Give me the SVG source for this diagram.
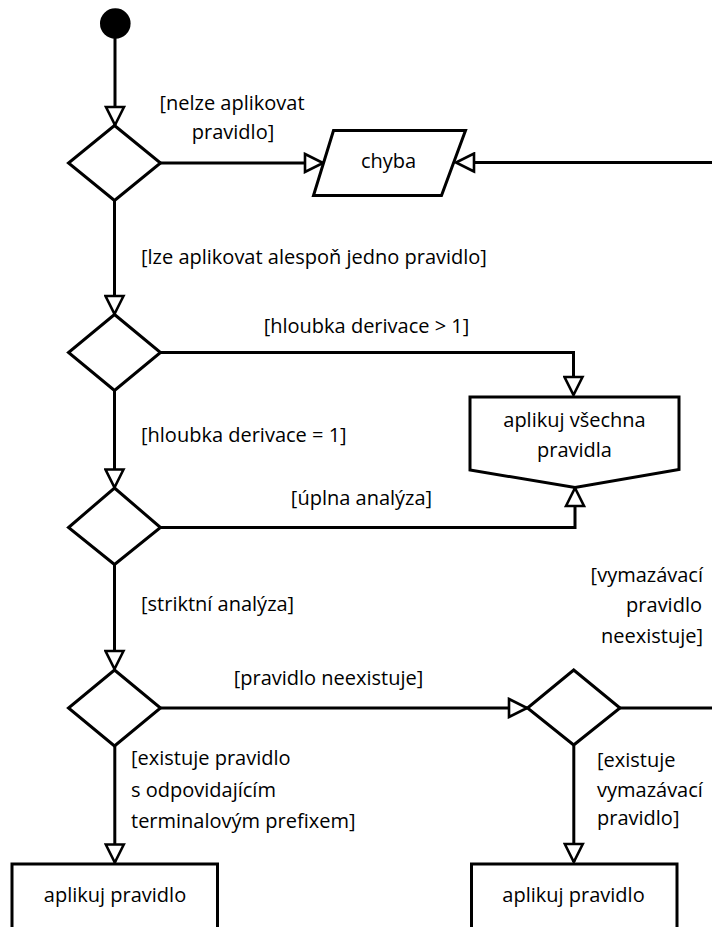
<svg xmlns="http://www.w3.org/2000/svg" width="712" height="927" viewBox="0 0 712 927">
  <style>
    .shape { fill: #fff; stroke: #000; stroke-width: 3; stroke-linejoin: miter; }
    .edge { fill: none; stroke: #000; stroke-width: 3; }
    .txt { font-family: "Open Sans", "Liberation Sans", sans-serif; font-size: 20px; fill: #000; }
    .mid { text-anchor: middle; }
    .end { text-anchor: end; }
  </style>
  <defs>
    <!-- open (hollow) triangular arrowhead -->
    <marker id="open-arrow" markerUnits="userSpaceOnUse" viewBox="-2 -11 22 22" markerWidth="22" markerHeight="22" refX="18" refY="0" orient="auto">
      <path d="M0,-9 L18,0 L0,9 Z" fill="#fff" stroke="#000" stroke-width="2.6"/>
    </marker>
  </defs>

  <!-- connectors -->
  <g id="connectors">
    <path class="edge" d="M115,38 V125" marker-end="url(#open-arrow)"/>
    <path class="edge" d="M160,163 H323" marker-end="url(#open-arrow)"/>
    <path class="edge" d="M712,162.5 H456" marker-end="url(#open-arrow)"/>
    <path class="edge" d="M114.5,201 V314" marker-end="url(#open-arrow)"/>
    <path class="edge" d="M160.5,352.5 H573.5 V395" marker-end="url(#open-arrow)"/>
    <path class="edge" d="M114.5,391 V487.5" marker-end="url(#open-arrow)"/>
    <path class="edge" d="M160.5,527.5 H575 V488" marker-end="url(#open-arrow)"/>
    <path class="edge" d="M114.5,565 V669" marker-end="url(#open-arrow)"/>
    <path class="edge" d="M160.5,708 H527" marker-end="url(#open-arrow)"/>
    <path class="edge" d="M620,708 H712"/>
    <path class="edge" d="M114.8,746 V862.5" marker-end="url(#open-arrow)"/>
    <path class="edge" d="M573.8,745.5 V862" marker-end="url(#open-arrow)"/>

    <!-- guard labels -->
    <text class="txt mid" x="232" y="110">[nelze aplikovat</text>
    <text class="txt mid" x="233" y="139">pravidlo]</text>
    <text class="txt" x="141" y="264">[lze aplikovat alespoň jedno pravidlo]</text>
    <text class="txt mid" x="366.5" y="333">[hloubka derivace &gt; 1]</text>
    <text class="txt" x="141" y="442">[hloubka derivace = 1]</text>
    <text class="txt mid" x="361.5" y="505">[úplna analýza]</text>
    <text class="txt" x="141" y="611">[striktní analýza]</text>
    <text class="txt mid" x="328.5" y="685">[pravidlo neexistuje]</text>
    <text class="txt" x="131" y="765">[existuje pravidlo</text>
    <text class="txt" x="131" y="797">s odpovidajícím</text>
    <text class="txt" x="131" y="828">terminalovým prefixem]</text>
    <text class="txt end" x="703" y="582">[vymazávací</text>
    <text class="txt end" x="702" y="612">pravidlo</text>
    <text class="txt end" x="703" y="643">neexistuje]</text>
    <text class="txt" x="597" y="767">[existuje</text>
    <text class="txt" x="597" y="797">vymazávací</text>
    <text class="txt" x="597" y="825">pravidlo]</text>
  </g>

  <!-- initial node -->
  <g id="start">
    <circle cx="115.3" cy="23.5" r="15.3" fill="#000"/>
  </g>

  <!-- decision nodes -->
  <g id="decision-1">
    <polygon class="shape" points="114.5,125.5 160.5,163 114.5,200.5 68.5,163"/>
  </g>
  <g id="decision-2">
    <polygon class="shape" points="114.5,314.5 160.5,352.5 114.5,390.5 68.5,352.5"/>
  </g>
  <g id="decision-3">
    <polygon class="shape" points="114.5,488 160.5,527.5 114.5,564.5 68.5,527.5"/>
  </g>
  <g id="decision-4">
    <polygon class="shape" points="114.5,670 160.5,708 114.5,746 68.5,708"/>
  </g>
  <g id="decision-5">
    <polygon class="shape" points="573.7,670 620,708 573.7,745 527.5,708"/>
  </g>

  <!-- error output -->
  <g id="chyba">
    <polygon class="shape" points="333.5,130.5 465.5,130.5 441.5,195.5 313.5,195.5"/>
    <text class="txt mid" x="388.5" y="168">chyba</text>
  </g>

  <!-- apply all rules -->
  <g id="aplikuj-vsechna">
    <polygon class="shape" points="470,397 679,397 679,469.5 575,487.5 470,470"/>
    <text class="txt mid" x="574.5" y="427">aplikuj všechna</text>
    <text class="txt mid" x="574.5" y="457">pravidla</text>
  </g>

  <!-- apply single rule (left) -->
  <g id="aplikuj-pravidlo-1">
    <rect class="shape" x="12" y="864" width="205.5" height="80"/>
    <text class="txt mid" x="115" y="902">aplikuj pravidlo</text>
  </g>

  <!-- apply single rule (right) -->
  <g id="aplikuj-pravidlo-2">
    <rect class="shape" x="471.5" y="864" width="205.5" height="80"/>
    <text class="txt mid" x="573.5" y="902">aplikuj pravidlo</text>
  </g>
</svg>
